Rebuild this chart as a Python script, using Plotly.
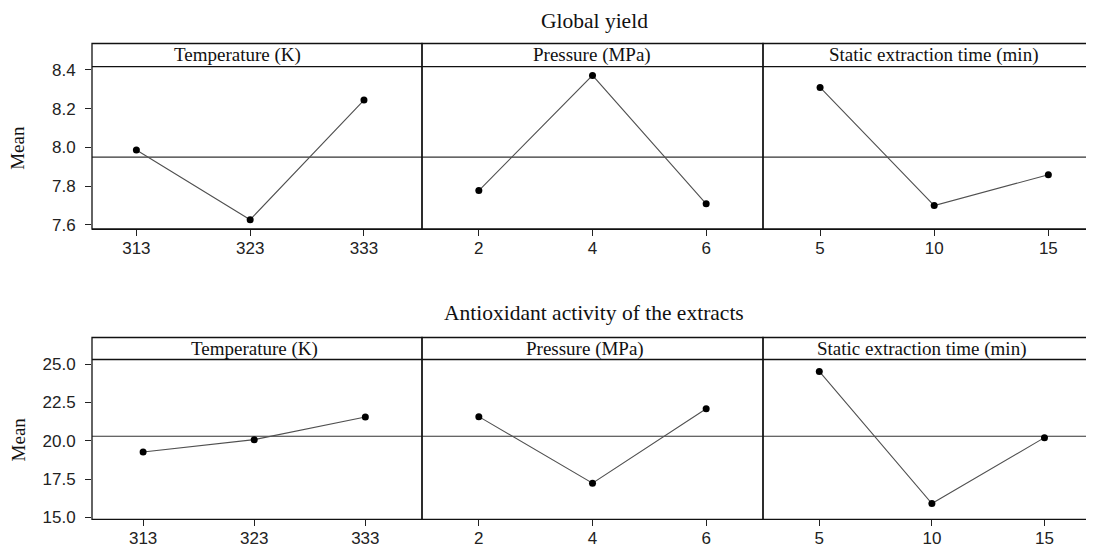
import plotly.graph_objects as go

# The page body has an 8px margin, so the figure starts at (8, 8) on screen.
OFF = 8
W, H = 1094 - OFF, 547 - OFF

# ---- data ----
factors = ["Temperature (K)", "Pressure (MPa)", "Static extraction time (min)"]
temp_levels = [313, 323, 333]
press_levels = [2, 4, 6]
time_levels = [5, 10, 15]

yield_temp = [7.986, 7.627, 8.244]
yield_press = [7.777, 8.371, 7.709]
yield_time = [8.309, 7.700, 7.859]
yield_mean = 7.95

anti_temp = [19.26, 20.07, 21.55]
anti_press = [21.57, 17.23, 22.09]
anti_time = [24.52, 15.90, 20.20]
anti_mean = 20.29

yield_ticks = [7.6, 7.8, 8.0, 8.2, 8.4]
anti_ticks = [15.0, 17.5, 20.0, 22.5, 25.0]

titles = ["Global yield", "Antioxidant activity of the extracts"]
ylabel = "Mean"

# ---- layout helpers (screen pixel -> paper) ----
def px(x):
    return (x - OFF) / W

def py(y):
    return 1 - (y - OFF) / H

xcols = [(92, 422), (422, 763), (763, 1094)]
levels = [temp_levels, press_levels, time_levels]

rows = [
    dict(strip_top=43.5, plot_top=66.7, plot_bot=229, yr=[7.579, 8.416], ticks=yield_ticks,
         series=[yield_temp, yield_press, yield_time], mean=yield_mean,
         xr=[[309.1, 338.1], [1.0, 7.0], [2.5, 17.0]],
         strip_cx=[238, 591.5, 933.5],
         title=titles[0], title_y=20.5),
    dict(strip_top=337.5, plot_top=359.5, plot_bot=519.3, yr=[14.87, 25.30], ticks=anti_ticks,
         series=[anti_temp, anti_press, anti_time], mean=anti_mean,
         xr=[[308.4, 338.1], [1.0, 7.0], [2.5, 17.2]],
         strip_cx=[254, 584.5, 921],
         title=titles[1], title_y=313),
]

fig = go.Figure()
layout = dict(
    width=W, height=H, margin=dict(l=0, r=0, t=0, b=0),
    paper_bgcolor="white", plot_bgcolor="white", showlegend=False,
)
shapes = []
annotations = []

TICKFONT = dict(family="Liberation Sans", size=17, color="#222")
SERIF = "Liberation Serif"

idx = 0
for r, row in enumerate(rows):
    for c in range(3):
        idx += 1
        xa = "xaxis" if idx == 1 else f"xaxis{idx}"
        ya = "yaxis" if idx == 1 else f"yaxis{idx}"
        xref = "x" if idx == 1 else f"x{idx}"
        yref = "y" if idx == 1 else f"y{idx}"
        layout[xa] = dict(
            domain=[px(xcols[c][0]), min(1.0, px(xcols[c][1]))], anchor=yref,
            range=row["xr"][c], tickmode="array", tickvals=levels[c],
            ticktext=[str(v) for v in levels[c]],
            ticks="outside", ticklen=6, tickwidth=1, tickcolor="#222",
            showline=True, linecolor="#111", linewidth=1.3,
            showgrid=False, zeroline=False, tickfont=TICKFONT,
            ticklabelstandoff=-3, automargin=False, fixedrange=True,
        )
        layout[ya] = dict(
            domain=[py(row["plot_bot"]), py(row["plot_top"])], anchor=xref,
            range=row["yr"], tickmode="array", tickvals=row["ticks"],
            ticktext=[f"{v:.1f}" for v in row["ticks"]],
            ticks="outside" if c == 0 else "", ticklen=6, tickwidth=1, tickcolor="#222",
            showticklabels=(c == 0), showline=False,
            showgrid=False, zeroline=False, tickfont=TICKFONT,
            ticklabelstandoff=6, automargin=False, fixedrange=True,
        )
        fig.add_trace(go.Scatter(
            x=levels[c], y=row["series"][c], xaxis=xref, yaxis=yref,
            mode="lines+markers",
            line=dict(color="#505050", width=1.1),
            marker=dict(color="black", size=7),
            hoverinfo="skip",
        ))
        # mean reference line for this panel
        shapes.append(dict(type="line", xref=f"{xref} domain", yref=yref,
                           x0=0, x1=1, y0=row["mean"], y1=row["mean"],
                           line=dict(color="#333", width=1.2), layer="below"))
        # strip label
        annotations.append(dict(
            text=factors[c], xref="paper", yref="paper",
            x=px(row["strip_cx"][c]),
            y=py((row["strip_top"] + row["plot_top"]) / 2),
            showarrow=False, xanchor="center", yanchor="middle",
            font=dict(family=SERIF, size=19, color="#111"),
        ))
        # panel box (strip + plot)
        shapes.append(dict(type="rect", xref="paper", yref="paper",
                           x0=px(xcols[c][0]), x1=px(xcols[c][1]),
                           y0=py(row["plot_bot"]), y1=py(row["strip_top"]),
                           line=dict(color="#111", width=1.3)))
    # strip bottom line
    shapes.append(dict(type="line", xref="paper", yref="paper",
                       x0=px(92), x1=1, y0=py(row["plot_top"]), y1=py(row["plot_top"]),
                       line=dict(color="#111", width=1.3)))
    # title
    annotations.append(dict(
        text=row["title"], xref="paper", yref="paper",
        x=px(594), y=py(row["title_y"]), showarrow=False,
        xanchor="center", yanchor="middle",
        font=dict(family=SERIF, size=21.5, color="#111"),
    ))
    # y label
    annotations.append(dict(
        text=ylabel, xref="paper", yref="paper",
        x=px(18), y=py((row["plot_top"] + row["plot_bot"]) / 2),
        showarrow=False, textangle=-90, xanchor="center", yanchor="middle",
        font=dict(family=SERIF, size=19, color="#111"),
    ))

layout["shapes"] = shapes
layout["annotations"] = annotations
fig.update_layout(**layout)
fig.write_html("out.html")
